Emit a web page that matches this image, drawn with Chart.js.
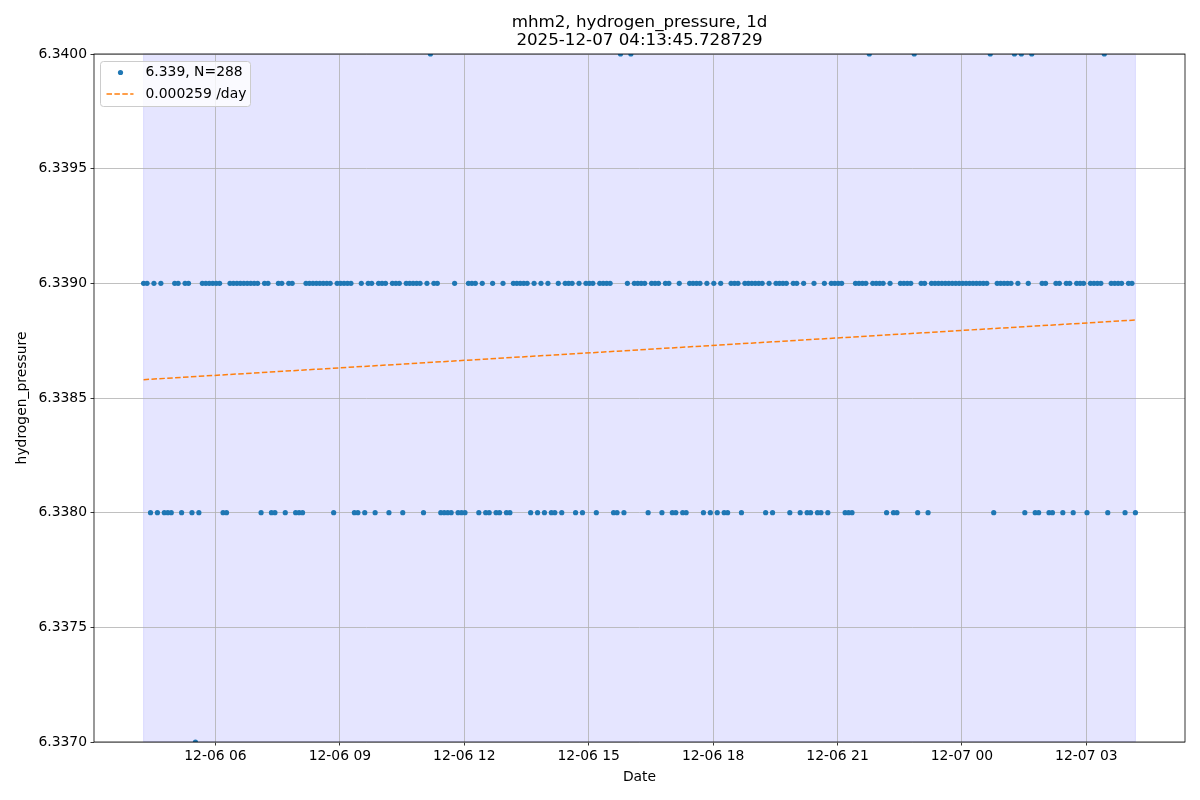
<!DOCTYPE html>
<html>
<head>
<meta charset="utf-8">
<script src="https://cdn.jsdelivr.net/npm/chart.js@4.4.1/dist/chart.umd.min.js"></script>
<style>
  html, body { margin: 0; padding: 0; background: #fff; }
</style>
</head>
<body>
<canvas id="chart" width="1200" height="800"></canvas>
<script>
// 5-minute samples, 12-06 04:16 .. 12-07 04:11 (hours since 12-06 00:00)
const startHour = 4 + 16 / 60;
const stepHours = 5 / 60;

// hydrogen_pressure readings, one row per hour (12 samples)
const pressure = [
  6.339, 6.339, 6.338, 6.339, 6.338, 6.339, 6.338, 6.338, 6.338, 6.339, 6.339, 6.338,
  6.339, 6.339, 6.338, 6.337, 6.338, 6.339, 6.339, 6.339, 6.339, 6.339, 6.339, 6.338,
  6.338, 6.339, 6.339, 6.339, 6.339, 6.339, 6.339, 6.339, 6.339, 6.339, 6.338, 6.339,
  6.339, 6.338, 6.338, 6.339, 6.339, 6.338, 6.339, 6.339, 6.338, 6.338, 6.338, 6.339,
  6.339, 6.339, 6.339, 6.339, 6.339, 6.339, 6.339, 6.338, 6.339, 6.339, 6.339, 6.339,
  6.339, 6.338, 6.338, 6.339, 6.338, 6.339, 6.339, 6.338, 6.339, 6.339, 6.339, 6.338,
  6.339, 6.339, 6.339, 6.338, 6.339, 6.339, 6.339, 6.339, 6.339, 6.338, 6.339, 6.340,
  6.339, 6.339, 6.338, 6.338, 6.338, 6.338, 6.339, 6.338, 6.338, 6.338, 6.339, 6.339,
  6.339, 6.338, 6.339, 6.338, 6.338, 6.339, 6.338, 6.338, 6.339, 6.338, 6.338, 6.339,
  6.339, 6.339, 6.339, 6.339, 6.338, 6.339, 6.338, 6.339, 6.338, 6.339, 6.338, 6.338,
  6.339, 6.338, 6.339, 6.339, 6.339, 6.338, 6.339, 6.338, 6.339, 6.339, 6.339, 6.338,
  6.339, 6.339, 6.339, 6.339, 6.338, 6.338, 6.340, 6.338, 6.339, 6.340, 6.339, 6.339,
  6.339, 6.339, 6.338, 6.339, 6.339, 6.339, 6.338, 6.339, 6.339, 6.338, 6.338, 6.339,
  6.338, 6.338, 6.339, 6.339, 6.339, 6.339, 6.338, 6.339, 6.338, 6.339, 6.338, 6.339,
  6.338, 6.338, 6.339, 6.339, 6.339, 6.338, 6.339, 6.339, 6.339, 6.339, 6.339, 6.339,
  6.338, 6.339, 6.338, 6.339, 6.339, 6.339, 6.339, 6.338, 6.339, 6.339, 6.338, 6.339,
  6.338, 6.338, 6.339, 6.338, 6.338, 6.339, 6.338, 6.339, 6.339, 6.339, 6.339, 6.338,
  6.338, 6.338, 6.339, 6.339, 6.339, 6.339, 6.340, 6.339, 6.339, 6.339, 6.339, 6.338,
  6.339, 6.338, 6.338, 6.339, 6.339, 6.339, 6.339, 6.340, 6.338, 6.339, 6.339, 6.338,
  6.339, 6.339, 6.339, 6.339, 6.339, 6.339, 6.339, 6.339, 6.339, 6.339, 6.339, 6.339,
  6.339, 6.339, 6.339, 6.339, 6.339, 6.340, 6.338, 6.339, 6.339, 6.339, 6.339, 6.339,
  6.340, 6.339, 6.340, 6.338, 6.339, 6.340, 6.338, 6.338, 6.339, 6.339, 6.338, 6.338,
  6.339, 6.339, 6.338, 6.339, 6.339, 6.338, 6.339, 6.339, 6.339, 6.338, 6.339, 6.339,
  6.339, 6.339, 6.340, 6.338, 6.339, 6.339, 6.339, 6.339, 6.338, 6.339, 6.339, 6.338
];

// fitted trend at first and last sample
const trendValues = [6.33858, 6.33884];

const xTickHours = [6, 9, 12, 15, 18, 21, 24, 27];
const xTickLabels = ['12-06 06', '12-06 09', '12-06 12', '12-06 15', '12-06 18', '12-06 21', '12-07 00', '12-07 03'];
const yTicks = [6.337, 6.3375, 6.338, 6.3385, 6.339, 6.3395, 6.340];
const yTickLabels = ['6.3370', '6.3375', '6.3380', '6.3385', '6.3390', '6.3395', '6.3400'];
const legendLabels = ['6.339, N=288', '0.000259 /day'];
const titleLines = ['mhm2, hydrogen_pressure, 1d', '2025-12-07 04:13:45.728729'];

const FONT = '"DejaVu Sans", sans-serif';
const BLUE = '#1f77b4';
const ORANGE = '#ff7f0e';

const points = pressure.map((v, i) => ({ x: startHour + i * stepHours, y: v }));
const firstX = points[0].x;
const lastX = points[points.length - 1].x;
const trend = [{ x: firstX, y: trendValues[0] }, { x: lastX, y: trendValues[1] }];
const margin = (lastX - firstX) * 0.05;

// background, shaded span (under grid), then spines/legend/title on top
const decor = {
  id: 'decor',
  beforeDraw(chart) {
    const { ctx, chartArea: a, scales } = chart;
    ctx.save();
    ctx.fillStyle = '#fff';
    ctx.fillRect(0, 0, chart.width, chart.height);
    const x0 = scales.x.getPixelForValue(firstX);
    const x1 = scales.x.getPixelForValue(lastX);
    ctx.fillStyle = 'rgba(0,0,255,0.1)';
    ctx.fillRect(x0, a.top, x1 - x0, a.bottom - a.top);
    ctx.strokeStyle = 'rgba(0,0,255,0.1)';
    ctx.lineWidth = 1;
    ctx.strokeRect(x0, a.top, x1 - x0, a.bottom - a.top);
    ctx.restore();
  },
  afterDraw(chart) {
    const { ctx, chartArea: a } = chart;
    ctx.save();
    // spines
    ctx.strokeStyle = '#000';
    ctx.lineWidth = 0.8;
    ctx.strokeRect(a.left, a.top, a.right - a.left, a.bottom - a.top);

    // title
    ctx.fillStyle = '#000';
    ctx.font = '16.7px ' + FONT;
    ctx.textAlign = 'center';
    ctx.textBaseline = 'middle';
    const cx = (a.left + a.right) / 2;
    ctx.fillText(titleLines[0], cx, 22.5);
    ctx.fillText(titleLines[1], cx, 40.5);

    // legend
    const bx = a.left + 6.5, by = a.top + 7.5, bw = 150, bh = 45, r = 3;
    ctx.beginPath();
    ctx.moveTo(bx + r, by);
    ctx.arcTo(bx + bw, by, bx + bw, by + bh, r);
    ctx.arcTo(bx + bw, by + bh, bx, by + bh, r);
    ctx.arcTo(bx, by + bh, bx, by, r);
    ctx.arcTo(bx, by, bx + bw, by, r);
    ctx.closePath();
    ctx.fillStyle = 'rgba(255,255,255,0.8)';
    ctx.fill();
    ctx.strokeStyle = '#cccccc';
    ctx.lineWidth = 1;
    ctx.stroke();

    const row1 = by + 11, row2 = by + 32.5;
    ctx.fillStyle = BLUE;
    ctx.beginPath();
    ctx.arc(bx + 20, row1, 2.6, 0, Math.PI * 2);
    ctx.fill();

    ctx.strokeStyle = ORANGE;
    ctx.lineWidth = 1.5;
    ctx.setLineDash([5.5, 2.4]);
    ctx.beginPath();
    ctx.moveTo(bx + 6, row2);
    ctx.lineTo(bx + 33, row2);
    ctx.stroke();
    ctx.setLineDash([]);

    ctx.fillStyle = '#000';
    ctx.font = '13.9px ' + FONT;
    ctx.textAlign = 'left';
    ctx.fillText(legendLabels[0], bx + 45, row1);
    ctx.fillText(legendLabels[1], bx + 45, row2);
    ctx.restore();
  }
};

const ctx = document.getElementById('chart').getContext('2d');
const chart = new Chart(ctx, {
  type: 'scatter',
  data: {
    datasets: [
      {
        label: legendLabels[1],
        type: 'line',
        data: trend,
        borderColor: ORANGE,
        borderWidth: 1.5,
        borderDash: [5.5, 2.4],
        pointRadius: 0,
        fill: false,
        clip: 0
      },
      {
        label: legendLabels[0],
        data: points,
        backgroundColor: BLUE,
        borderColor: BLUE,
        borderWidth: 0,
        pointRadius: 2.6,
        clip: 0
      }
    ]
  },
  options: {
    responsive: false,
    animation: false,
    devicePixelRatio: 1,
    layout: { padding: { top: 54, right: 15, left: 0, bottom: 0 } },
    plugins: {
      legend: { display: false },
      title: { display: false },
      tooltip: { enabled: false }
    },
    scales: {
      x: {
        type: 'linear',
        min: firstX - margin,
        max: lastX + margin,
        afterBuildTicks: s => { s.ticks = xTickHours.map(v => ({ value: v })); },
        afterFit: s => { s.height = 58; },
        ticks: {
          autoSkip: false,
          maxRotation: 0,
          padding: 3,
          color: '#000',
          font: { family: FONT, size: 13.9 },
          callback: (v, i) => xTickLabels[i]
        },
        grid: { color: '#b0b0b0', lineWidth: 0.8, tickColor: '#000', tickLength: 3.5, tickWidth: 0.8 },
        border: { display: false },
        title: { display: true, text: 'Date', color: '#000', font: { family: FONT, size: 13.9 }, padding: { top: 0, bottom: 14.7 } }
      },
      y: {
        min: 6.337,
        max: 6.340,
        afterBuildTicks: s => { s.ticks = yTicks.map(v => ({ value: v })); },
        afterFit: s => { s.width = 94; },
        ticks: {
          padding: 3.5,
          color: '#000',
          font: { family: FONT, size: 13.9 },
          callback: (v, i) => yTickLabels[i]
        },
        grid: { color: '#b0b0b0', lineWidth: 0.8, tickColor: '#000', tickLength: 3.5, tickWidth: 0.8 },
        border: { display: false },
        title: { display: true, text: 'hydrogen_pressure', color: '#000', font: { family: FONT, size: 13.9 }, padding: { top: 13.6, bottom: 0 } }
      }
    }
  },
  plugins: [decor]
});
</script>
</body>
</html>
